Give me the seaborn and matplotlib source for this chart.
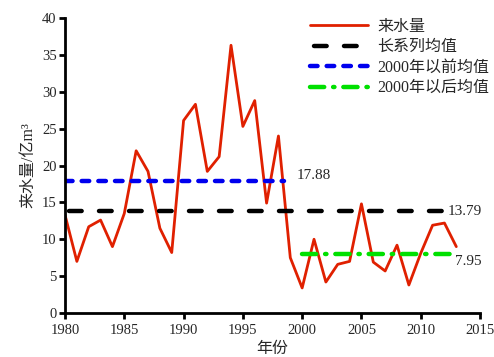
import matplotlib
matplotlib.use("Agg")
import matplotlib.pyplot as plt
import seaborn as sns
import pandas as pd

# Annual inflow (亿m³), 1980-2013
years = list(range(1980, 2014))
inflow = [13.3, 7.0, 11.7, 12.6, 9.0, 13.5, 22.0, 19.2, 11.5, 8.2,
          26.1, 28.3, 19.2, 21.2, 36.3, 25.3, 28.8, 14.9, 24.0, 7.5,
          3.4, 10.0, 4.2, 6.6, 7.0, 14.8, 6.9, 5.7, 9.2, 3.8,
          8.1, 11.9, 12.2, 9.0]

# Period means
mean_all = 13.79
mean_pre2000 = 17.88
mean_post2000 = 7.95

series_labels = ["来水量", "长系列均值", "2000年以前均值", "2000年以后均值"]
x_ticks = [1980, 1985, 1990, 1995, 2000, 2005, 2010, 2015]
y_ticks = [0, 5, 10, 15, 20, 25, 30, 35, 40]

sns.set_style("ticks")
plt.rcParams["font.family"] = ["Liberation Serif", "Noto Sans CJK SC", "DejaVu Sans"]

df = pd.DataFrame({"year": years, "inflow": inflow})
pre_years = [y for y in years if y < 2000]
post_years = [y for y in years if y >= 2000]
df_all = pd.DataFrame({"year": [years[0], years[-1]], "v": [mean_all, mean_all]})
df_pre = pd.DataFrame({"year": [pre_years[0], pre_years[-1] - 0.5],
                       "v": [mean_pre2000, mean_pre2000]})
df_post = pd.DataFrame({"year": [post_years[0], post_years[-1]],
                        "v": [mean_post2000, mean_post2000]})

fig = plt.figure(figsize=(4.94, 3.57), dpi=100)
ax = fig.add_axes([0.1316, 0.1232, 0.8401, 0.8264])

sns.lineplot(data=df, x="year", y="inflow", ax=ax, color="#e02000", lw=2.0,
             label=series_labels[0])
sns.lineplot(data=df_all, x="year", y="v", ax=ax, color="black", lw=3.2,
             label=series_labels[1])
ax.lines[-1].set_linestyle((5.85, (2.85, 3.9)))
ax.lines[-1].set_dash_capstyle("round")
sns.lineplot(data=df_pre, x="year", y="v", ax=ax, color="#0000ee", lw=3.2,
             label=series_labels[2])
ax.lines[-1].set_dashes([1.7, 2.05])
ax.lines[-1].set_dash_capstyle("round")
sns.lineplot(data=df_post, x="year", y="v", ax=ax, color="#00e000", lw=3.2,
             label=series_labels[3])
ax.lines[-1].set_dashes([3.2, 2.0, 0.3, 2.0])
ax.lines[-1].set_dash_capstyle("round")

# Mean value labels
ax.text(pre_years[-1] + 0.5, mean_pre2000 + 0.8, f"{mean_pre2000:.2f}",
        fontsize=11, va="center", ha="left")
ax.text(years[-1] - 0.7, mean_all, f"{mean_all:.2f}",
        fontsize=11, va="center", ha="left")
ax.text(years[-1] - 0.1, mean_post2000 - 0.9, f"{mean_post2000:.2f}",
        fontsize=11, va="center", ha="left")

ax.set_xlim(1980, 2015)
ax.set_ylim(0, 40)
ax.set_xticks(x_ticks)
ax.set_yticks(y_ticks)
ax.tick_params(axis="both", direction="out", length=4, width=2, labelsize=10.5,
               color="black")
ax.tick_params(axis="x", pad=4)
ax.tick_params(axis="y", pad=2)
for s in ["left", "bottom"]:
    ax.spines[s].set_linewidth(2)
    ax.spines[s].set_color("black")
sns.despine(ax=ax)

ax.set_xlabel("年份", fontsize=11.5, labelpad=3)
ax.set_ylabel("来水量/亿m³", fontsize=11.5, labelpad=4)

leg = ax.legend(loc="upper right", bbox_to_anchor=(1.045, 1.03), frameon=False,
                fontsize=11.5, handlelength=3.6, handletextpad=0.6,
                labelspacing=0.28, borderaxespad=0.2)

fig.savefig("out.png", dpi=100)
